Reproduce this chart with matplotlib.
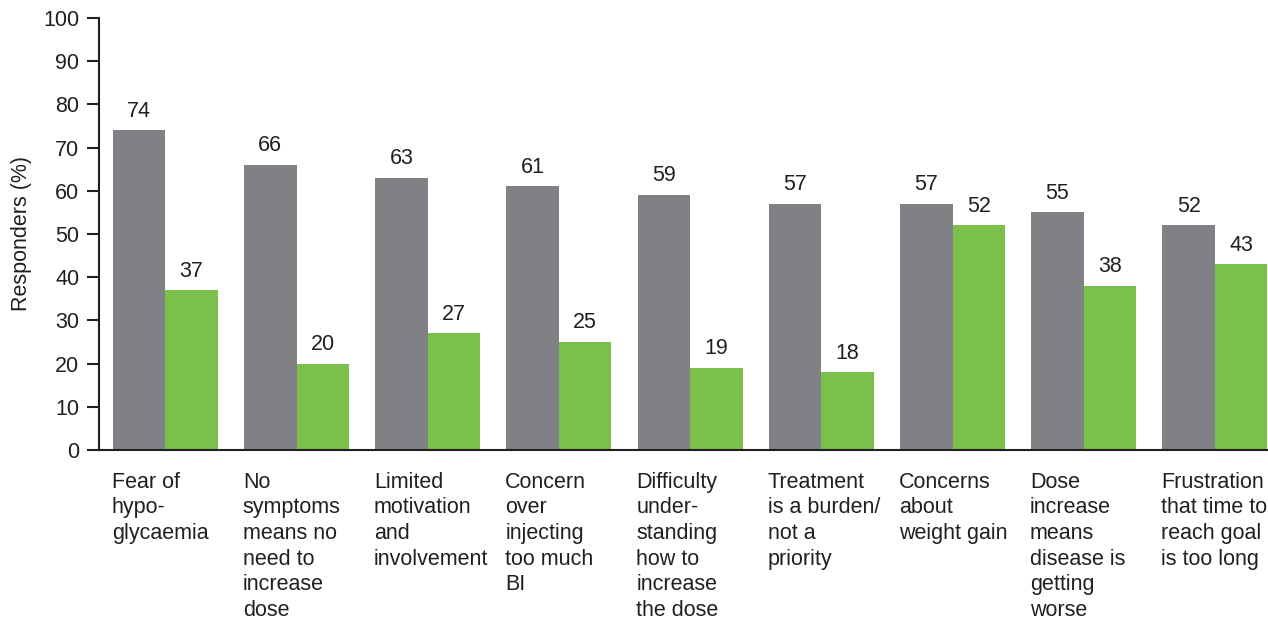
import numpy as np
import matplotlib
matplotlib.use("Agg")
import matplotlib.pyplot as plt

plt.rcParams['font.family'] = ['Liberation Sans', 'DejaVu Sans']

# Barriers to insulin dose titration
categories = [
    "Fear of\nhypo-\nglycaemia",
    "No\nsymptoms\nmeans no\nneed to\nincrease\ndose",
    "Limited\nmotivation\nand\ninvolvement",
    "Concern\nover\ninjecting\ntoo much\nBI",
    "Difficulty\nunder-\nstanding\nhow to\nincrease\nthe dose",
    "Treatment\nis a burden/\nnot a\npriority",
    "Concerns\nabout\nweight gain",
    "Dose\nincrease\nmeans\ndisease is\ngetting\nworse",
    "Frustration\nthat time to\nreach goal\nis too long",
]
grey_vals = [74, 66, 63, 61, 59, 57, 57, 55, 52]
green_vals = [37, 20, 27, 25, 19, 18, 52, 38, 43]

grey = "#808184"
green = "#7bc04b"
ink = "#231f20"
fs = 15.5

fig = plt.figure(figsize=(12.68, 6.19), dpi=100)
ax = fig.add_axes([0.078, 0.273, 0.922, 0.698])

x = np.arange(len(categories))
w = 0.40
ax.bar(x - w / 2, grey_vals, w, color=grey, linewidth=0)
ax.bar(x + w / 2, green_vals, w, color=green, linewidth=0)

for xi, v in zip(x - w / 2, grey_vals):
    ax.text(xi, v + 2.0, str(v), ha="center", va="bottom", fontsize=fs, color=ink)
for xi, v in zip(x + w / 2, green_vals):
    ax.text(xi, v + 2.0, str(v), ha="center", va="bottom", fontsize=fs, color=ink)

# category labels, left aligned under each group
for xi, lab in zip(x - w, categories):
    ax.text(xi - 0.01, -5.0, lab, ha="left", va="top", fontsize=fs, color=ink,
            linespacing=1.29, clip_on=False)

ax.set_xlim(-0.507, len(categories) - 1 + w + 0.005)
ax.set_ylim(0, 100)
ax.set_yticks(range(0, 101, 10))
ax.set_xticks([])
ax.tick_params(axis="y", direction="out", length=9, width=1.5, colors=ink,
               labelsize=fs, pad=5)
ax.set_ylabel("Responders (%)", fontsize=fs, color=ink, labelpad=8)

for s in ["top", "right"]:
    ax.spines[s].set_visible(False)
for s in ["left", "bottom"]:
    ax.spines[s].set_color(ink)
    ax.spines[s].set_linewidth(1.5)

fig.savefig("out.png", dpi=100)
